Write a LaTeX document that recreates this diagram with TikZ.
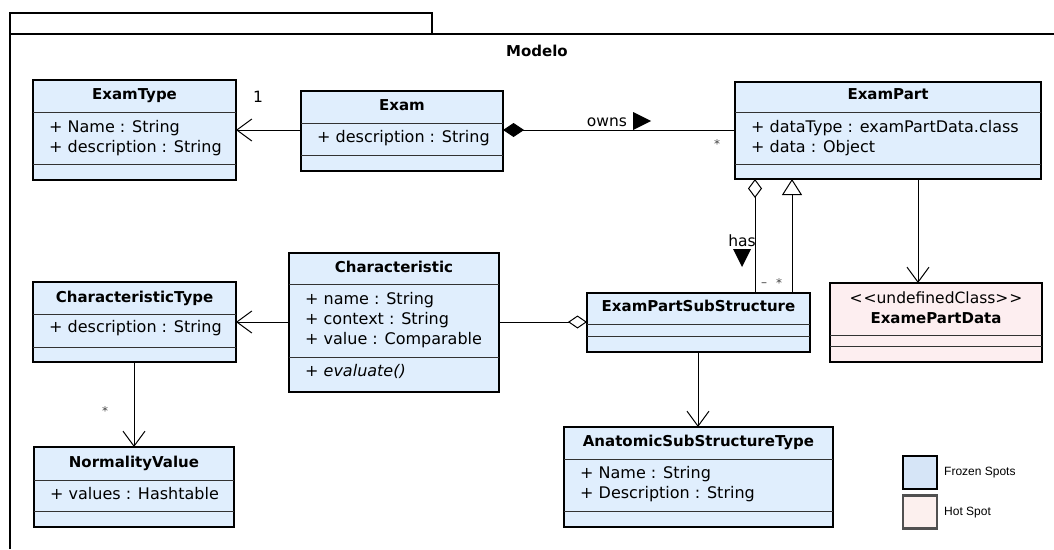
\documentclass[tikz,border=0pt]{standalone}
\usepackage{fontspec}
\setmainfont{DejaVu Sans}
\newfontfamily\legendfont{Liberation Sans}
\usetikzlibrary{arrows.meta}
\definecolor{classblue}{RGB}{224,238,253}
\definecolor{hotpink}{RGB}{253,238,240}
\definecolor{legblue}{RGB}{214,229,247}
\definecolor{legpink}{RGB}{252,240,238}
\definecolor{legborder}{RGB}{80,80,80}
\definecolor{sepgray}{RGB}{50,50,50}

\tikzset{
  classbox/.style={draw=black, line width=2.8pt, rectangle, inner sep=0pt, outer sep=0pt},
  sepline/.style={line width=0.9pt, draw=sepgray},
  ctitle/.style={font=\fontsize{15}{18}\selectfont\bfseries, anchor=mid, inner sep=0pt},
  cstereo/.style={font=\fontsize{15.5}{18}\selectfont, anchor=mid, inner sep=0pt},
  cattr/.style={font=\fontsize{16}{20}\selectfont, anchor=mid west, inner sep=0pt},
  cop/.style={font=\fontsize{16}{20}\selectfont\itshape, anchor=mid west, inner sep=0pt},
  conn/.style={line width=1pt, draw=black},
  openarrow/.style={conn, -{Straight Barb[length=15pt,width=22pt,line width=1pt]}},
  lbl/.style={font=\fontsize{15.5}{18}\selectfont, inner sep=0pt},
  mult/.style={font=\fontsize{12}{14}\selectfont, text=black!75, inner sep=0pt},
  legbox/.style={rectangle, line width=2.6pt, inner sep=0pt, outer sep=0pt, minimum width=34pt, minimum height=33pt},
  legtext/.style={font=\legendfont\fontsize{12}{14}\selectfont, anchor=mid west, inner sep=0pt},
}

% name, x1, y1, x2, y2, fill, sep1, sep2
\newcommand\umlclass[8]{%
  \node[classbox, fill=#6, minimum width={(#4-#2)*1pt}, minimum height={(#5-#3)*1pt}] (#1) at ({(#2+#4)/2},{(#3+#5)/2}) {};
  \draw[sepline] (#2,#7) -- (#4,#7);
  \draw[sepline] (#2,#8) -- (#4,#8);
}

\begin{document}
\begin{tikzpicture}[x=1pt,y=-1pt]
\useasboundingbox (0,0) rectangle (1054,549);

% package frame
\draw[line width=2pt] (10,549) -- (10,34) -- (1054,34);
\draw[line width=2pt] (10,34) -- (10,13) -- (432,13) -- (432,34);
\node[ctitle] (modelo) at (537,54) {Modelo};

% classes
\umlclass{examtype}{33}{80}{236}{180}{classblue}{112}{164}
\node[ctitle] (tExamType) at (134.5,97) {ExamType};
\node[cattr] (aExamType1) at (49,130) {+ Name : String};
\node[cattr] (aExamType2) at (49,150) {+ description : String};

\umlclass{exam}{301}{91}{503}{171}{classblue}{123}{155}
\node[ctitle] (tExam) at (402,108) {Exam};
\node[cattr] (aExam1) at (317,140) {+ description : String};

\umlclass{exampart}{735}{82}{1041}{179}{classblue}{112}{164}
\node[ctitle] (tExamPart) at (888,97) {ExamPart};
\node[cattr] (aExamPart1) at (751,130) {+ dataType : examPartData.class};
\node[cattr] (aExamPart2) at (751,150) {+ data : Object};

\umlclass{charac}{289}{253}{499}{392}{classblue}{284}{357}
\node[ctitle] (tCharac) at (394,270) {Characteristic};
\node[cattr] (aCharac1) at (305,302) {+ name : String};
\node[cattr] (aCharac2) at (305,322) {+ context : String};
\node[cattr] (aCharac3) at (305,342) {+ value : Comparable};
\node[cop] (oCharac1) at (305,374) {+ evaluate()};

\umlclass{chartype}{33}{282}{236}{362}{classblue}{314}{347}
\node[ctitle] (tCharType) at (134.5,300) {CharacteristicType};
\node[cattr] (aCharType1) at (49,330) {+ description : String};

\umlclass{normval}{34}{447}{234}{527}{classblue}{480}{511}
\node[ctitle] (tNormVal) at (134,465) {NormalityValue};
\node[cattr] (aNormVal1) at (50,497) {+ values : Hashtable};

\umlclass{epss}{587}{293}{810}{352}{classblue}{324}{336}
\node[ctitle] (tEPSS) at (698.5,309) {ExamPartSubStructure};

\umlclass{anat}{564}{427}{833}{527}{classblue}{459}{511}
\node[ctitle] (tAnat) at (698.5,444) {AnatomicSubStructureType};
\node[cattr] (aAnat1) at (580,476) {+ Name : String};
\node[cattr] (aAnat2) at (580,496) {+ Description : String};

\umlclass{epdata}{830}{283}{1042}{362}{hotpink}{335}{346}
\node[cstereo] (sEPData) at (936,301) {<\kern1pt<undefinedClass>\kern1pt>};
\node[ctitle] (tEPData) at (936,321) {ExamePartData};

% helper coordinates
\coordinate (y130) at (0,130);
\coordinate (y322) at (0,322);
\coordinate (x755) at (755,0);
\coordinate (x792) at (792,0);
\coordinate (x918) at (918,0);
\coordinate (x698) at (698,0);
\coordinate (x134) at (134,0);

% Exam -> ExamType
\draw[openarrow] (exam.west |- y130) -- (examtype.east |- y130);
\node[lbl] (m1) at (258,97) {1};

% Exam <>-- ExamPart (composition)
\draw[conn, {Diamond[length=21pt,width=14pt]}-] (exam.east |- y130) -- (exampart.west |- y130);
\node[lbl] (owns) at (607,122) {owns};
\fill (633,112) -- (651,121) -- (633,130) -- cycle;
\node[mult] (mStarOwns) at (717,144) {*};

% ExamPart -> ExamePartData
\draw[openarrow] (exampart.south -| x918) -- (epdata.north -| x918);

% ExamPartSubStructure -|> ExamPart (generalization)
\draw[conn, -{Triangle[open,length=16pt,width=20pt,fill=white]}] (epss.north -| x792) -- (exampart.south -| x792);

% ExamPartSubStructure -- <> ExamPart (aggregation "has")
\draw[conn, -{Diamond[open,length=19pt,width=14pt,fill=white]}] (epss.north -| x755) -- (exampart.south -| x755);
\node[lbl] (has) at (742,241) {has};
\fill (733,249) -- (751,249) -- (742,267) -- cycle;
\node[mult] (mDash) at (764,285) {\textendash};
\node[mult] (mStarHas) at (779,283) {*};

% Characteristic -- <> ExamPartSubStructure
\draw[conn, -{Diamond[open,length=19pt,width=13pt,fill=white]}] (charac.east |- y322) -- (epss.west |- y322);

% Characteristic -> CharacteristicType
\draw[openarrow] (charac.west |- y322) -- (chartype.east |- y322);

% CharacteristicType -> NormalityValue
\draw[openarrow] (chartype.south -| x134) -- (normval.north -| x134);
\node[mult] (mStarNorm) at (105,411) {*};

% ExamPartSubStructure -> AnatomicSubStructureType
\draw[openarrow] (epss.south -| x698) -- (anat.north -| x698);

% legend
\node[legbox, draw=black, fill=legblue] (legFrozen) at (920,472.5) {};
\node[legtext] (legFrozenT) at (944,473) {Frozen Spots};
\node[legbox, draw=legborder, fill=legpink] (legHot) at (920,512) {};
\node[legtext] (legHotT) at (944,513) {Hot Spot};
\end{tikzpicture}
\end{document}
